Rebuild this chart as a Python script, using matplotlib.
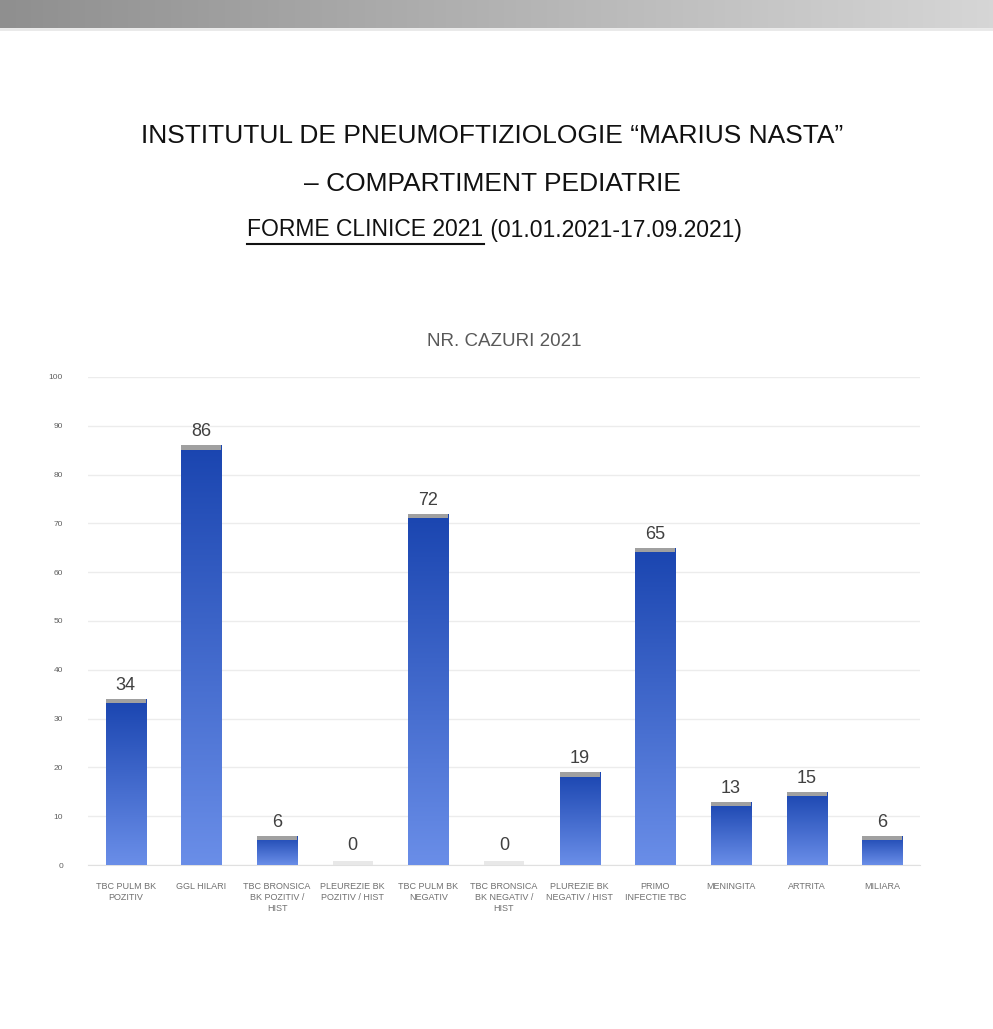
import numpy as np
import matplotlib.pyplot as plt
from matplotlib.colors import LinearSegmentedColormap

categories = ["TBC PULM BK\nPOZITIV", "GGL HILARI", "TBC BRONSICA\nBK POZITIV /\nHIST",
              "PLEUREZIE BK\nPOZITIV / HIST", "TBC PULM BK\nNEGATIV", "TBC BRONSICA\nBK NEGATIV /\nHIST",
              "PLUREZIE BK\nNEGATIV / HIST", "PRIMO\nINFECTIE TBC", "MENINGITA", "ARTRITA", "MILIARA"]
cazuri = [34, 86, 6, 0, 72, 0, 19, 65, 13, 15, 6]
yticks = list(range(0, 101, 10))

plt.rcParams['font.family'] = ['Liberation Sans', 'DejaVu Sans']

W, H = 993, 1029
fig = plt.figure(figsize=(W / 100, H / 100), dpi=100)

# gray banner at the top
band = fig.add_axes([0, 1 - 28 / H, 1, 28 / H])
band.imshow(np.linspace(0, 1, 256).reshape(1, -1), aspect='auto',
            cmap=LinearSegmentedColormap.from_list('g', ['#8f8f8f', '#d6d6d6']))
band.axis('off')
fig.add_artist(plt.Line2D([0, 1], [1 - 29 / H, 1 - 29 / H], color='#e8e8e8', lw=2))

# titles
fig.text(0.496, 1 - 136 / H, 'INSTITUTUL DE PNEUMOFTIZIOLOGIE \u201cMARIUS NASTA\u201d',
         ha='center', va='center', fontsize=19, color='#111111')
fig.text(0.496, 1 - 184 / H, '\u2013 COMPARTIMENT PEDIATRIE', ha='center', va='center',
         fontsize=19, color='#111111')
t1 = fig.text(0.487, 1 - 230 / H, 'FORME CLINICE 2021', ha='right', va='center',
              fontsize=16.5, color='#111111')
fig.text(0.487, 1 - 230 / H, ' (01.01.2021-17.09.2021)', ha='left', va='center',
         fontsize=16.5, color='#111111')

ax = fig.add_axes([88 / W, 1 - 865 / H, 832 / W, 488 / H])
x = np.arange(len(categories))
width = 0.53
cmap = LinearSegmentedColormap.from_list('b', ['#6a8ee8', '#1a45b0'])
grad = np.linspace(0, 1, 256).reshape(-1, 1)

for xi, v in zip(x, cazuri):
    if v == 0:
        ax.bar(xi, 0.8, width, color='#e8e8e8', zorder=3)
        ax.text(xi, 2.2, '0', ha='center', va='bottom', fontsize=13, color='#404040')
        continue
    bar = ax.bar(xi, v, width, color='none', zorder=3)[0]
    im = ax.imshow(grad, cmap=cmap, origin='lower', aspect='auto', zorder=3,
                   extent=(xi - width / 2, xi + width / 2, 0, v))
    im.set_clip_path(bar)
    ax.bar(xi, 0.9, width, bottom=v - 0.9, color='#a0a0a0', zorder=4)
    ax.text(xi, v + 1.0, str(v), ha='center', va='bottom', fontsize=13, color='#404040')

ax.set_xlim(-0.5, len(categories) - 0.5)
ax.set_ylim(0, 100)
ax.set_yticks(yticks)
ax.set_yticklabels([str(t) for t in yticks], fontsize=6, color='#606060')
ax.set_xticks(x)
ax.set_xticklabels(categories, fontsize=6.5, color='#707070', linespacing=1.3)
ax.tick_params(length=0)
ax.tick_params(axis='x', pad=12)
ax.tick_params(axis='y', pad=18)
ax.grid(axis='y', color='#ececec', lw=1)
ax.set_axisbelow(True)
for s in ['top', 'right', 'left']:
    ax.spines[s].set_visible(False)
ax.spines['bottom'].set_color('#e0e0e0')
ax.set_title('NR. CAZURI 2021', fontsize=13.5, color='#595959', pad=22)

# underline first part of the third title line
fig.canvas.draw()
bb = t1.get_window_extent().transformed(fig.transFigure.inverted())
fig.add_artist(plt.Line2D([bb.x0, bb.x1], [bb.y0 - 0.002, bb.y0 - 0.002], color='#111111', lw=1.5))

fig.savefig('out.png', dpi=100)
